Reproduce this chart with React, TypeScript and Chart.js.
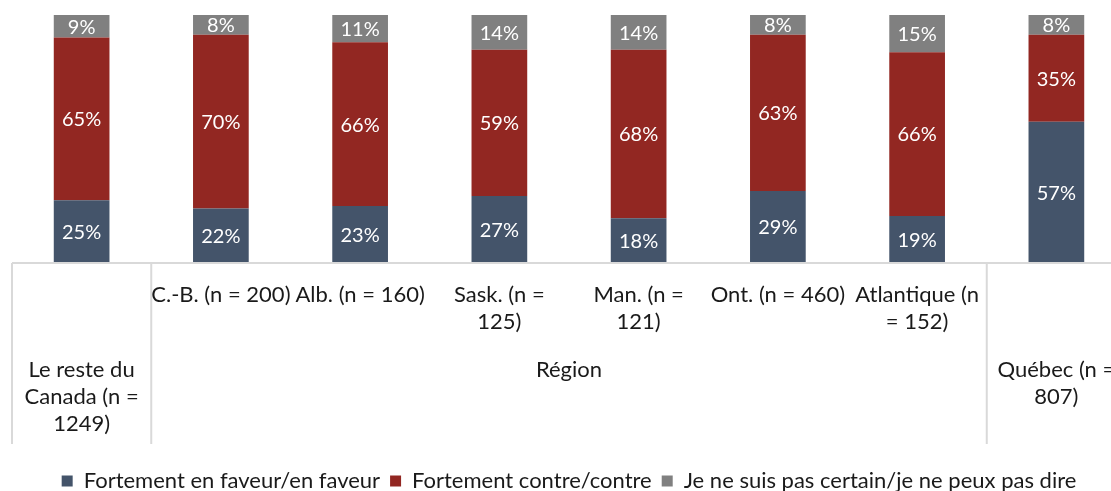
import React, { useEffect, useRef } from 'react';
import { Chart, registerables } from 'chart.js';

Chart.register(...registerables);

const categories = [
  'Le reste du Canada (n = 1249)',
  'C.-B. (n = 200)',
  'Alb. (n = 160)',
  'Sask. (n = 125)',
  'Man. (n = 121)',
  'Ont. (n = 460)',
  'Atlantique (n = 152)',
  'Québec (n = 807)',
];
const categoryLines = [
  ['Le reste du', 'Canada (n =', '1249)'],
  ['C.-B. (n = 200)'],
  ['Alb. (n = 160)'],
  ['Sask. (n =', '125)'],
  ['Man. (n =', '121)'],
  ['Ont. (n = 460)'],
  ['Atlantique (n', '= 152)'],
  ['Québec (n =', '807)'],
];
const groupLabel = 'Région';
const groupStart = 1;
const groupEnd = 6;

const seriesNames = [
  'Fortement en faveur/en faveur',
  'Fortement contre/contre',
  'Je ne suis pas certain/je ne peux pas dire',
];
const favour = [25, 22, 23, 27, 18, 29, 19, 57];
const against = [65, 70, 66, 59, 68, 63, 66, 35];
const unsure = [9, 8, 11, 14, 14, 8, 15, 8];
const seriesColors = ['#44546A', '#922722', '#808080'];

const FONT = 'Lato, "Open Sans", sans-serif';
const LINE = '#D9D9D9';

export default function App() {
  const ref = useRef<HTMLCanvasElement | null>(null);

  useEffect(() => {
    const canvas = ref.current;
    if (!canvas) return;
    const raw = [favour, against, unsure];
    const totals = favour.map((_, i) => favour[i] + against[i] + unsure[i]);
    const norm = raw.map((arr) => arr.map((v, i) => (v / totals[i]) * 100));

    const labelPlugin = {
      id: 'segLabels',
      afterDatasetsDraw(chart: any) {
        const ctx = chart.ctx;
        ctx.save();
        ctx.fillStyle = '#FFFFFF';
        ctx.font = `20px ${FONT}`;
        ctx.textAlign = 'center';
        ctx.textBaseline = 'middle';
        chart.data.datasets.forEach((_ds: any, di: number) => {
          const meta = chart.getDatasetMeta(di);
          meta.data.forEach((bar: any, i: number) => {
            const p = bar.getProps(['x', 'y', 'base'], true);
            ctx.fillText(raw[di][i] + '%', p.x, (p.y + p.base) / 2 + 1);
          });
        });
        ctx.restore();
      },
    };

    const tablePlugin = {
      id: 'catTable',
      afterDraw(chart: any) {
        const ctx = chart.ctx;
        const xs = chart.scales.x;
        const area = chart.chartArea;
        const top = area.bottom;
        const bottom = top + 181;
        const half = (xs.getPixelForValue(1) - xs.getPixelForValue(0)) / 2;
        ctx.save();
        ctx.strokeStyle = LINE;
        ctx.lineWidth = 2;
        ctx.beginPath();
        ctx.moveTo(area.left, top);
        ctx.lineTo(area.right, top);
        const vx = [
          area.left,
          xs.getPixelForValue(groupStart) - half,
          xs.getPixelForValue(groupEnd) + half,
          area.right,
        ];
        vx.forEach((x) => {
          ctx.moveTo(x, top);
          ctx.lineTo(x, bottom);
        });
        ctx.stroke();

        ctx.fillStyle = '#1A1A1A';
        ctx.font = `22px ${FONT}`;
        ctx.textAlign = 'center';
        ctx.textBaseline = 'middle';
        const lh = 27;
        categoryLines.forEach((lines, i) => {
          const x = xs.getPixelForValue(i);
          const inGroup = i >= groupStart && i <= groupEnd;
          const y0 = inGroup ? top + 32 : top + 107;
          lines.forEach((t, k) => ctx.fillText(t, x, y0 + k * lh));
        });
        const gx = (xs.getPixelForValue(groupStart) + xs.getPixelForValue(groupEnd)) / 2;
        ctx.fillText(groupLabel, gx, top + 107);
        ctx.restore();
      },
    };

    const chart = new Chart(canvas, {
      type: 'bar',
      data: {
        labels: categories,
        datasets: seriesNames.map((name, di) => ({
          label: name,
          data: norm[di],
          backgroundColor: seriesColors[di],
          borderWidth: 0,
          barPercentage: 0.4,
          categoryPercentage: 1,
        })),
      },
      options: {
        responsive: false,
        animation: false,
        events: [],
        layout: { padding: { top: 15, left: 12, right: 20, bottom: -11 } },
        scales: {
          x: {
            stacked: true,
            offset: true,
            grid: { display: false },
            border: { display: false },
            ticks: { display: false },
            afterFit: (s: any) => {
              s.height = 197;
            },
          },
          y: {
            stacked: true,
            display: false,
            min: 0,
            max: 100,
          },
        },
        plugins: {
          legend: {
            position: 'bottom',
            labels: {
              boxWidth: 11,
              boxHeight: 11,
              padding: 10,
              color: '#1A1A1A',
              font: { size: 22, family: FONT },
            },
          },
          tooltip: { enabled: false },
        },
      },
      plugins: [labelPlugin, tablePlugin],
    });
    return () => chart.destroy();
  }, []);

  return (
    <div
      style={{
        position: 'fixed',
        left: 0,
        top: 0,
        width: 1111,
        height: 491,
        overflow: 'hidden',
        background: '#FFFFFF',
      }}
    >
      <canvas ref={ref} width={1146} height={491} style={{ display: 'block' }} />
    </div>
  );
}
